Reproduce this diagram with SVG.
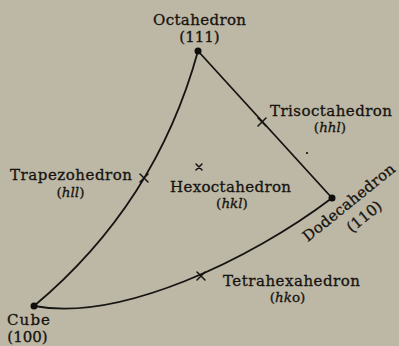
<svg xmlns="http://www.w3.org/2000/svg" width="399" height="346" viewBox="0 0 399 346">
<style>
.lbl{font-family:"DejaVu Serif","Liberation Serif",serif;font-size:15px;fill:#15130f;stroke:#15130f;stroke-width:0.3;text-anchor:middle}
.sm{font-size:13.5px}
.it{font-style:italic}
.edge{fill:none;stroke:#161412;stroke-width:1.8;stroke-linecap:round}
.x{stroke:#161412;stroke-width:1.5;stroke-linecap:round}
.pt{fill:#100e0c}
</style>
<rect width="399" height="346" fill="#bdb7a5"/>
<g id="connectors">
<path class="edge" d="M198,51 Q156,204 34,306"/>
<path class="edge" d="M198,51 L332,198"/>
<path class="edge" d="M34,306 C120,322 250,260 332,198"/>
</g>
<g id="octahedron">
<circle class="pt" cx="198" cy="51" r="3.5"/>
<text class="lbl" x="199.5" y="24.5" textLength="93">Octahedron</text>
<text class="lbl" x="199.5" y="42">(111)</text>
</g>
<g id="dodecahedron">
<circle class="pt" cx="332" cy="198" r="3.5"/>
<text class="lbl" transform="translate(352,206.5) rotate(-39)" textLength="114">Dodecahedron</text>
<text class="lbl" transform="translate(367.5,220.5) rotate(-39)">(110)</text>
</g>
<g id="cube">
<circle class="pt" cx="34" cy="306" r="3.5"/>
<text class="lbl" x="28.5" y="324.5" textLength="43">Cube</text>
<text class="lbl" x="27.5" y="341.5">(100)</text>
</g>
<g id="trisoctahedron">
<path class="x" d="M258,118 L266,126 M266,118 L258,126"/>
<text class="lbl" x="331" y="115.5" textLength="122">Trisoctahedron</text>
<text class="lbl sm" x="330" y="131.5">(<tspan class="it">hhl</tspan>)</text>
</g>
<g id="trapezohedron">
<path class="x" d="M140,174 L148,182 M148,174 L140,182"/>
<text class="lbl" x="71" y="179.5" textLength="122">Trapezohedron</text>
<text class="lbl sm" x="70.5" y="196.5">(<tspan class="it">hll</tspan>)</text>
</g>
<g id="hexoctahedron">
<path class="x" d="M196,164 L202,170 M202,164 L196,170"/>
<text class="lbl" x="230.5" y="191.5" textLength="121">Hexoctahedron</text>
<text class="lbl sm" x="232" y="207.5">(<tspan class="it">hkl</tspan>)</text>
</g>
<g id="tetrahexahedron">
<path class="x" d="M197,272 L205,280 M205,272 L197,280"/>
<text class="lbl" x="291.5" y="285.5" textLength="137">Tetrahexahedron</text>
<text class="lbl sm" x="287.5" y="301.5">(<tspan class="it">hk</tspan>o)</text>
</g>
<circle class="pt" cx="307" cy="153" r="1.1"/>
</svg>
